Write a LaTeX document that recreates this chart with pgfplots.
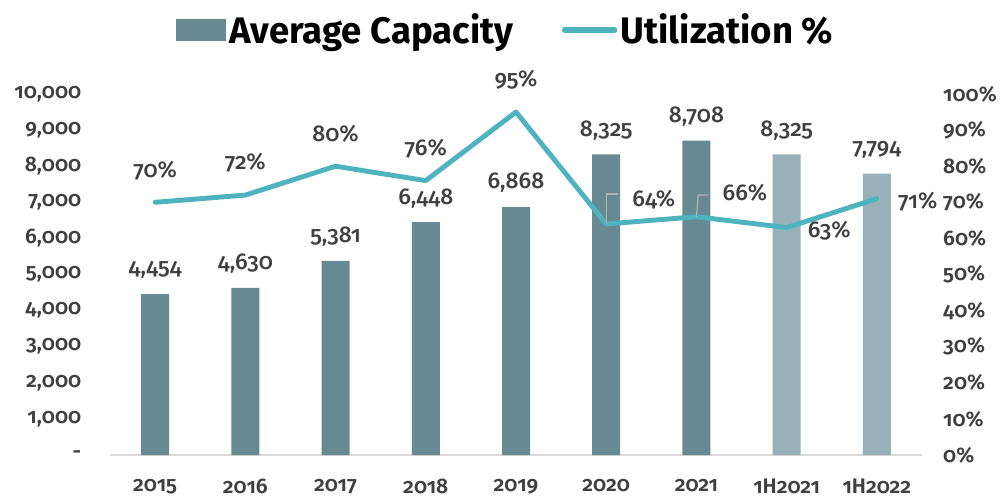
\documentclass[border=0pt]{standalone}
\usepackage{fontspec}
\setmainfont{Fira Sans}[Numbers=OldStyle, BoldFont={Fira Sans SemiBold}]
\newfontfamily\medfont{Fira Sans Medium}[Numbers=OldStyle]
\newfontfamily\legfont{Fira Sans}[FakeStretch=0.99]
\usepackage{pgfplots}
\pgfplotsset{compat=1.18}

\definecolor{bardark}{HTML}{678991}
\definecolor{barlight}{HTML}{98B1B8}
\definecolor{util}{HTML}{4FB3BF}
\definecolor{txt}{HTML}{404040}
\definecolor{baseline}{HTML}{D9D9D9}

\begin{document}
\begin{tikzpicture}
\path[use as bounding box] (-2.2,-0.88) rectangle (17.8,9.1);

\begin{axis}[
  at={(0,0)}, anchor=south west,
  width=16.24cm, height=7.22cm, scale only axis,
  xmin=-0.5, xmax=8.5, ymin=0, ymax=10000,
  scaled y ticks=false,
  axis x line*=bottom, axis y line*=left,
  x axis line style={draw=baseline, line width=0.8pt, -},
  y axis line style={draw=none},
  major tick length=0pt,
  xtick={0,...,8},
  xticklabels={2015,2016,2017,2018,2019,2020,2021,1H2021,1H2022},
  xticklabel style={font=\fontsize{12}{14}\selectfont\bfseries, text=txt, yshift=-0.36cm},
  ytick={0,1000,...,10000},
  yticklabels={-,{1,000},{2,000},{3,000},{4,000},{5,000},{6,000},{7,000},{8,000},{9,000},{10,000}},
  yticklabel style={font=\fontsize{12}{14}\selectfont\bfseries, text=txt, xshift=-0.45cm},
  ybar, bar width=0.56cm, bar shift=0pt,
  clip=false,
  nodes near coords, point meta=explicit symbolic,
  nodes near coords style={font=\medfont\fontsize{13}{15}\selectfont, text=txt, anchor=center, yshift=0.48cm},
  legend style={at={(0.488,1.177)}, anchor=center, draw=none, fill=none,
    legend columns=2, font=\legfont\bfseries\fontsize{21}{24}\selectfont,
    /tikz/every even column/.append style={column sep=0.9cm},
    legend cell align=left},
]
\addplot[fill=bardark, draw=none,
  legend image code/.code={\fill[bardark] (0cm,-0.22cm) rectangle (1.0cm,0.22cm);}]
  coordinates {(0,4454) [4,454] (1,4630) [4,630] (2,5381) [5,381] (3,6448) [6,448]
               (4,6868) [6,868] (5,8325) [8,325] (6,8708) [8,708]};
\addlegendentry{Average Capacity}
\addplot[fill=barlight, draw=none, forget plot]
  coordinates {(7,8325) [8,325] (8,7794) [7,794]};
\addlegendimage{legend image code/.code={\draw[util, line width=3pt, line cap=round] (0cm,0cm) -- (1.0cm,0cm);}}
\addlegendentry{Utilization \%}
\end{axis}

\begin{axis}[
  at={(0,0)}, anchor=south west,
  width=16.24cm, height=7.22cm, scale only axis,
  xmin=-0.5, xmax=8.5, ymin=0, ymax=100,
  axis x line=none, axis y line*=right,
  y axis line style={draw=none},
  major tick length=0pt,
  ytick={0,10,...,100},
  yticklabels={0\%,10\%,20\%,30\%,40\%,50\%,60\%,70\%,80\%,90\%,100\%},
  yticklabel style={font=\fontsize{12}{14}\selectfont\bfseries, text=txt, xshift=0.3cm},
  clip=false,
]
\addplot[util, line width=2.8pt, line join=round, line cap=round, mark=none]
  coordinates {(0,70) (1,72) (2,80) (3,76) (4,95) (5,64) (6,66) (7,63) (8,71)};
% labels above the line
\addplot[draw=none, mark=none, nodes near coords, point meta=explicit symbolic,
  nodes near coords style={font=\medfont\fontsize{13}{15}\selectfont, text=txt, anchor=center, yshift=0.64cm}]
  coordinates {(0,70) [70\%] (1,72) [72\%] (2,80) [80\%] (3,76) [76\%] (4,95) [95\%]};
% labels with leader lines
\addplot[draw=none, mark=none, nodes near coords, point meta=explicit symbolic,
  nodes near coords style={font=\medfont\fontsize{13}{15}\selectfont, text=txt, anchor=west, xshift=0.4cm, yshift=0.48cm}]
  coordinates {(5,64) [64\%] (6,66) [66\%]};
\draw[gray!60, line width=0.7pt] (axis cs:5,64) -- (axis cs:5,72.3) -- (axis cs:5.13,72.3);
\draw[gray!60, line width=0.7pt] (axis cs:6,66) -- (axis cs:6.02,72.0) -- (axis cs:6.13,72.0);
% labels to the right
\addplot[draw=none, mark=none, nodes near coords, point meta=explicit symbolic,
  nodes near coords style={font=\medfont\fontsize{13}{15}\selectfont, text=txt, anchor=west, xshift=0.3cm, yshift=-0.06cm}]
  coordinates {(7,63) [63\%] (8,71) [71\%]};
\end{axis}
\end{tikzpicture}
\end{document}
